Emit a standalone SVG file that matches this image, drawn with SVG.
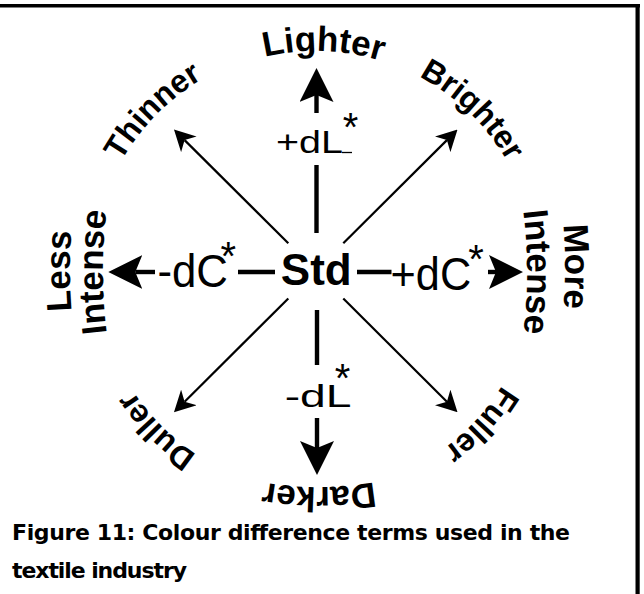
<svg xmlns="http://www.w3.org/2000/svg" width="644" height="594" viewBox="0 0 644 594">
<style>
.lbl{font-family:"Liberation Sans",Arial,sans-serif;font-weight:bold;font-size:35px;fill:#000}
.sm{font-size:32px}
.dt{font-family:"Liberation Sans",Arial,sans-serif;fill:#000}
.ast{font-size:40px}
.ax{stroke:#000;stroke-width:4.4;fill:none}
.dg{stroke:#000;stroke-width:2.2;fill:none}
.cap{font-family:"DejaVu Sans",Verdana,sans-serif;font-weight:bold;font-size:22px;fill:#000}
</style>
<defs>
<marker id="bigHead" markerUnits="userSpaceOnUse" viewBox="0 0 34 34" refX="7" refY="17" markerWidth="34" markerHeight="34" orient="auto"><path d="M0,0 L34,17 L0,34 L7,17 Z" fill="#000"/></marker>
<marker id="smallHead" markerUnits="userSpaceOnUse" viewBox="0 0 21 22" refX="6" refY="11" markerWidth="21" markerHeight="22" orient="auto"><path d="M0,0 L21,11 L0,22 L6,11 Z" fill="#000"/></marker>
<path id="a224" d="M122.01,160 A224,224 0 0 1 509.99,160"/>
<path id="a221" d="M124.61,161.5 A221,221 0 0 1 507.39,161.5"/>
<path id="a218" d="M127.21,163 A218,218 0 0 1 504.79,163"/>
<path id="pDark" d="M469,449.7 A320,320 0 0 1 169,449.7"/>
<path id="pLess" d="M93,421 A500,500 0 0 1 93,121"/>
<path id="pIntL" d="M126,422 A500,500 0 0 1 126,122"/>
<path id="pMore" d="M542,116.5 A500,500 0 0 1 542,416.5"/>
<path id="pIntR" d="M504,122 A500,500 0 0 1 504,422"/>
</defs>
<rect width="644" height="594" fill="#fff"/>
<g id="frame">
<rect x="0" y="4" width="640" height="3.5" fill="#000"/>
<rect x="635.5" y="4" width="4.2" height="590" fill="#000"/>
</g>
<g id="connectors">
<line class="ax" x1="316.5" y1="165" x2="316.5" y2="233"/>
<line class="ax" x1="316.5" y1="113" x2="316.5" y2="95" marker-end="url(#bigHead)"/>
<line class="ax" x1="317" y1="310" x2="317" y2="365"/>
<line class="ax" x1="317" y1="418" x2="317" y2="448" marker-end="url(#bigHead)"/>
<line class="ax" x1="238" y1="272" x2="275" y2="272"/>
<line class="ax" x1="155" y1="272" x2="135.3" y2="272" marker-end="url(#bigHead)"/>
<line class="ax" x1="357" y1="272" x2="391.5" y2="272"/>
<line class="ax" x1="488" y1="272" x2="496" y2="272" marker-end="url(#bigHead)"/>
<line class="dg" x1="288.3" y1="243.3" x2="184.6" y2="140.1" marker-end="url(#smallHead)"/>
<line class="dg" x1="343.3" y1="243.3" x2="446.9" y2="140.1" marker-end="url(#smallHead)"/>
<line class="dg" x1="288.3" y1="298.5" x2="184.6" y2="401.7" marker-end="url(#smallHead)"/>
<line class="dg" x1="343.3" y1="298.5" x2="446.9" y2="401.7" marker-end="url(#smallHead)"/>
<line x1="342" y1="152.5" x2="352" y2="152.5" stroke="#000" stroke-width="1.3"/>
</g>
<g id="std"><text class="dt" x="316.3" y="285" font-size="44" font-weight="bold" text-anchor="middle">Std</text></g>
<g id="plusdL"><text class="dt" x="276" y="153" font-size="32"><tspan textLength="67" lengthAdjust="spacingAndGlyphs">+dL</tspan><tspan class="ast" x="342.7" y="141.3">*</tspan></text></g>
<g id="minusdL"><text class="dt" x="284.7" y="406.7" font-size="32"><tspan textLength="66.8" lengthAdjust="spacingAndGlyphs">-dL</tspan><tspan class="ast" x="334.7" y="391.8">*</tspan></text></g>
<g id="minusdC"><text class="dt" x="157.4" y="287.3" font-size="46"><tspan textLength="70.5" lengthAdjust="spacingAndGlyphs">-dC</tspan><tspan class="ast" x="220.5" y="269.5">*</tspan></text></g>
<g id="plusdC"><text class="dt" x="390.6" y="290" font-size="46"><tspan textLength="80.6" lengthAdjust="spacingAndGlyphs">+dC</tspan><tspan class="ast" x="468.2" y="272.8">*</tspan></text></g>
<g id="lighter" transform="rotate(1.9 316 272)"><text class="lbl"><textPath href="#a221" startOffset="50%" text-anchor="middle">Lighter</textPath></text></g>
<g id="thinner" transform="rotate(-45.4 316 272)"><text class="lbl sm"><textPath href="#a224" startOffset="50%" text-anchor="middle">Thinner</textPath></text></g>
<g id="brighter" transform="rotate(43.9 316 272)"><text class="lbl sm"><textPath href="#a221" startOffset="50%" text-anchor="middle">Brighter</textPath></text></g>
<g id="fuller" transform="rotate(132.8 316 272)"><text class="lbl sm"><textPath href="#a218" startOffset="50%" text-anchor="middle">Fuller</textPath></text></g>
<g id="darker"><text class="lbl"><textPath href="#pDark" startOffset="50%" text-anchor="middle">Darker</textPath></text></g>
<g id="duller" transform="rotate(225.1 316 272)"><text class="lbl sm"><textPath href="#a218" startOffset="50%" text-anchor="middle">Duller</textPath></text></g>
<g id="more-intense">
<text class="lbl"><textPath href="#pMore" startOffset="50%" text-anchor="middle">More</textPath></text>
<text class="lbl"><textPath href="#pIntR" startOffset="50%" text-anchor="middle">Intense</textPath></text>
</g>
<g id="less-intense">
<text class="lbl"><textPath href="#pLess" startOffset="50%" text-anchor="middle">Less</textPath></text>
<text class="lbl"><textPath href="#pIntL" startOffset="50%" text-anchor="middle">Intense</textPath></text>
</g>
<g id="caption">
<text class="cap" x="12" y="540" textLength="558" lengthAdjust="spacing">Figure 11:  Colour difference terms used in the</text>
<text class="cap" x="12" y="577.5" textLength="175" lengthAdjust="spacing">textile industry</text>
</g>
</svg>
